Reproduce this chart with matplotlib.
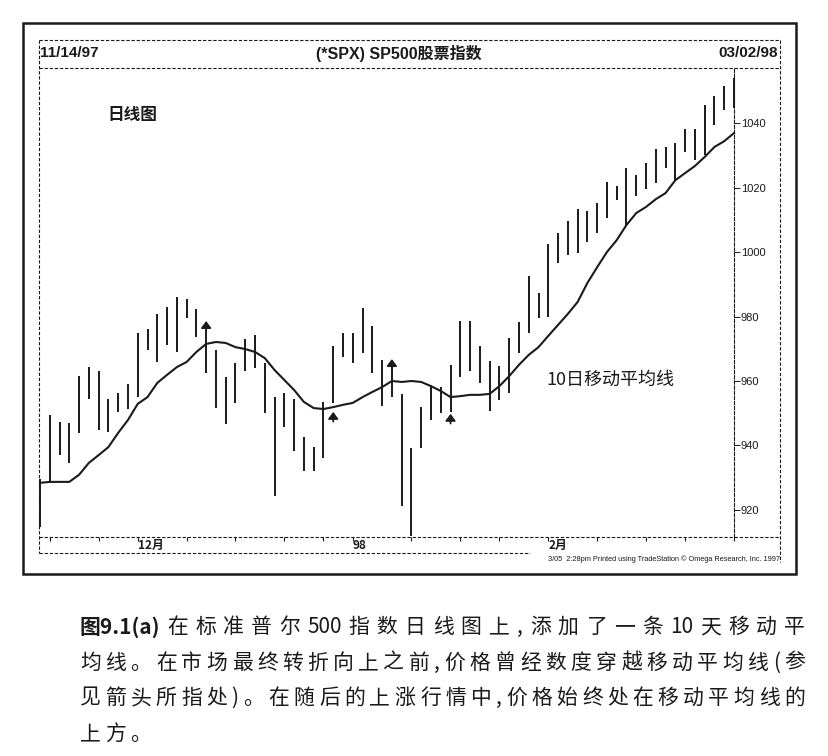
import re
import numpy as np
import matplotlib
matplotlib.use('Agg')
import matplotlib.pyplot as plt
from matplotlib.lines import Line2D
from matplotlib.patches import Rectangle

CJK = ['Noto Sans CJK SC', 'DejaVu Sans']
SANS = ['Liberation Sans', 'Noto Sans CJK SC', 'DejaVu Sans']

# daily bars 11/14/97 .. 03/02/98 (72 trading days)
highs = [929.5, 949.5, 947.3, 947.0, 961.5, 964.3, 963.1, 954.4, 956.3, 959.1,
         974.9, 976.1, 980.8, 982.9, 986.0, 985.4, 982.3, 975.8, 969.6, 961.2,
         965.6, 973.0, 974.3, 965.6, 955.0, 956.3, 954.4, 942.6, 939.5, 953.5,
         970.9, 974.9, 974.9, 982.6, 977.0, 966.5, 964.3, 956.0, 939.2, 951.9,
         958.8, 958.1, 965.0, 978.6, 978.6, 970.9, 966.2, 964.6, 973.3, 978.3,
         992.6, 987.3, 1002.5, 1005.9, 1009.6, 1013.3, 1012.7, 1015.2, 1021.7, 1020.5,
         1026.0, 1023.9, 1027.6, 1031.9, 1032.6, 1033.8, 1038.1, 1038.1, 1045.6, 1048.4,
         1051.5, 1054.0]
lows = [914.7, 928.4, 937.0, 934.6, 943.9, 954.4, 944.8, 944.2, 950.4, 951.3,
        955.0, 969.6, 965.9, 971.2, 969.0, 979.5, 973.6, 962.5, 951.6, 946.7,
        953.2, 963.1, 964.0, 950.1, 924.3, 945.7, 938.3, 932.1, 932.1, 936.1,
        953.2, 967.4, 965.6, 968.7, 962.5, 952.2, 955.0, 921.2, 912.0, 939.2,
        947.9, 950.1, 950.4, 961.2, 963.1, 959.4, 950.7, 954.1, 956.3, 968.7,
        974.9, 979.5, 979.8, 996.6, 999.1, 999.7, 1003.1, 1005.9, 1010.5, 1016.1,
        1008.4, 1017.4, 1019.5, 1021.4, 1026.0, 1022.3, 1031.0, 1028.5, 1030.1, 1039.4,
        1044.0, 1044.7]
# 10 day moving average
ma10 = [928.4, 928.7, 928.7, 928.7, 930.9, 934.6, 937.0, 939.5, 943.9, 947.9,
        952.9, 955.0, 959.4, 961.9, 964.3, 965.9, 969.0, 971.5, 972.1, 971.8,
        970.5, 969.9, 969.0, 967.1, 963.4, 960.3, 957.2, 953.5, 951.6, 951.3,
        951.9, 952.6, 953.2, 955.0, 956.6, 958.1, 960.0, 959.7, 960.0, 959.7,
        958.4, 956.9, 955.0, 955.3, 955.7, 955.7, 956.0, 958.4, 961.5, 965.0,
        968.1, 970.5, 974.0, 977.4, 980.8, 984.5, 990.4, 995.3, 1000.0, 1003.7,
        1008.4, 1012.1, 1014.0, 1016.4, 1018.3, 1022.3, 1024.5, 1026.7, 1029.5, 1032.6,
        1034.4, 1036.9]
# arrows (bar index, arrow tip price)
arrow_bars = [17, 30, 36, 42]
arrow_tips = [978.6, 950.4, 966.8, 949.8]

week_ticks = [1, 6, 10, 15, 20, 25, 29, 32, 38, 43, 47, 52, 57, 62, 66, 71]
month_pos = [10, 32, 52]
month_labels = ['12月', '98', '2月']
price_ticks = [920, 940, 960, 980, 1000, 1020, 1040]

caption = ['在标准普尔 500 指数日线图上,添加了一条 10 天移动平',
           '均线。在市场最终转折向上之前,价格曾经数度穿越移动平均线(参',
           '见箭头所指处)。在随后的上涨行情中,价格始终处在移动平均线的',
           '上方。']

W, H = 829, 756


def fx(px):
    return px / W


def fy(py):
    return 1 - py / H


fig = plt.figure(figsize=(W / 100, H / 100), dpi=100)
dash = (0, (3, 1.6))
ink = '#1a1a1a'

# chart panel
ax = fig.add_axes([fx(39), fy(537), (734 - 39) / W, (537 - 68) / H])
x = np.arange(len(highs))
ax.vlines(x, lows, highs, color=ink, lw=1.4, clip_on=False)
ax.plot(x, ma10, color=ink, lw=1.5, clip_on=False)
for i, tip in zip(arrow_bars, arrow_tips):
    ax.annotate('', xy=(i, tip), xytext=(i, tip - 3.0),
                arrowprops=dict(arrowstyle='-|>,head_width=0.3,head_length=0.4',
                                color=ink, lw=1.3, shrinkA=0, shrinkB=0))
ax.set_xlim(-0.1, 71.0)
ax.set_ylim(911.6, 1057.1)
for s in ['top', 'bottom', 'left']:
    ax.spines[s].set_visible(False)
ax.spines['right'].set_linestyle(dash)
ax.spines['right'].set_linewidth(0.8)
ax.spines['right'].set_color(ink)
ax.yaxis.tick_right()
ax.set_yticks(price_ticks)
ax.set_yticklabels([str(v) for v in price_ticks], fontsize=8, family=SANS)
ax.tick_params(axis='y', length=4, width=0.7, pad=1, colors=ink)
ax.set_xticks(week_ticks)
ax.set_xticklabels([])
ax.tick_params(axis='x', length=3, width=0.8, direction='out', colors=ink)
for p, lab in zip(month_pos, month_labels):
    ax.text(p, -0.004, lab, transform=ax.get_xaxis_transform(), ha='left', va='top',
            fontsize=8.5, fontweight='bold', family=CJK, color=ink)

ax.text(0.098, 0.9, '日线图', transform=ax.transAxes, fontsize=12, fontweight='bold',
        family=CJK, color=ink, va='center')
ax.text(0.73, 0.335, '10日移动平均线', transform=ax.transAxes, fontsize=13,
        family=CJK, color=ink, va='center')

# frames and rules
fig.add_artist(Rectangle((fx(23), fy(574)), fx(796) - fx(23), fy(23) - fy(574),
                         transform=fig.transFigure, fill=False, lw=1.8, ec=ink))
for xs, ys in [([39, 780], [40, 40]), ([39, 780], [68, 68]), ([39, 780], [537, 537]),
               ([39, 530], [553, 553]), ([39, 39], [40, 553]), ([780, 780], [40, 562])]:
    fig.add_artist(Line2D([fx(v) for v in xs], [fy(v) for v in ys], transform=fig.transFigure,
                          ls=dash, lw=0.8, color=ink))

fig.text(fx(40), fy(53), '11/14/97', fontsize=11, fontweight='bold', family=SANS,
         va='center', color=ink)
fig.text(fx(399), fy(53), '(*SPX) SP500股票指数', fontsize=11.5, fontweight='bold', family=SANS,
         va='center', ha='center', color=ink)
fig.text(fx(778), fy(53), '03/02/98', fontsize=11, fontweight='bold', family=SANS,
         va='center', ha='right', color=ink)
fig.text(fx(780), fy(559), '3/05  2:28pm Printed using TradeStation © Omega Research, Inc. 1997',
         fontsize=5.3, family=SANS, va='center', ha='right', color=ink)

# caption, spread over the line width like the book page
renderer = fig.canvas.get_renderer()


def put_line(s, x0, x1, y, gap=None):
    toks = re.findall(r'[A-Za-z0-9.]+|\S', s)
    arts = [fig.text(0, fy(y), t, fontsize=15, family=CJK, va='center', color=ink) for t in toks]
    ws = [a.get_window_extent(renderer).width for a in arts]
    if gap is None:
        gap = (x1 - x0 - sum(ws)) / (len(ws) - 1)
    pos = x0
    for a, w in zip(arts, ws):
        a.set_x(fx(pos))
        pos += w + gap
    return gap


fig.text(fx(80), fy(627), '图9.1(a)', fontsize=15, fontweight='bold', family=CJK,
         va='center', color=ink)
put_line(caption[0], 167, 805, 627)
g = put_line(caption[1], 80, 805, 663)
put_line(caption[2], 80, 805, 698)
put_line(caption[3], 80, 805, 734, gap=g)

fig.savefig('out.png', dpi=100)
